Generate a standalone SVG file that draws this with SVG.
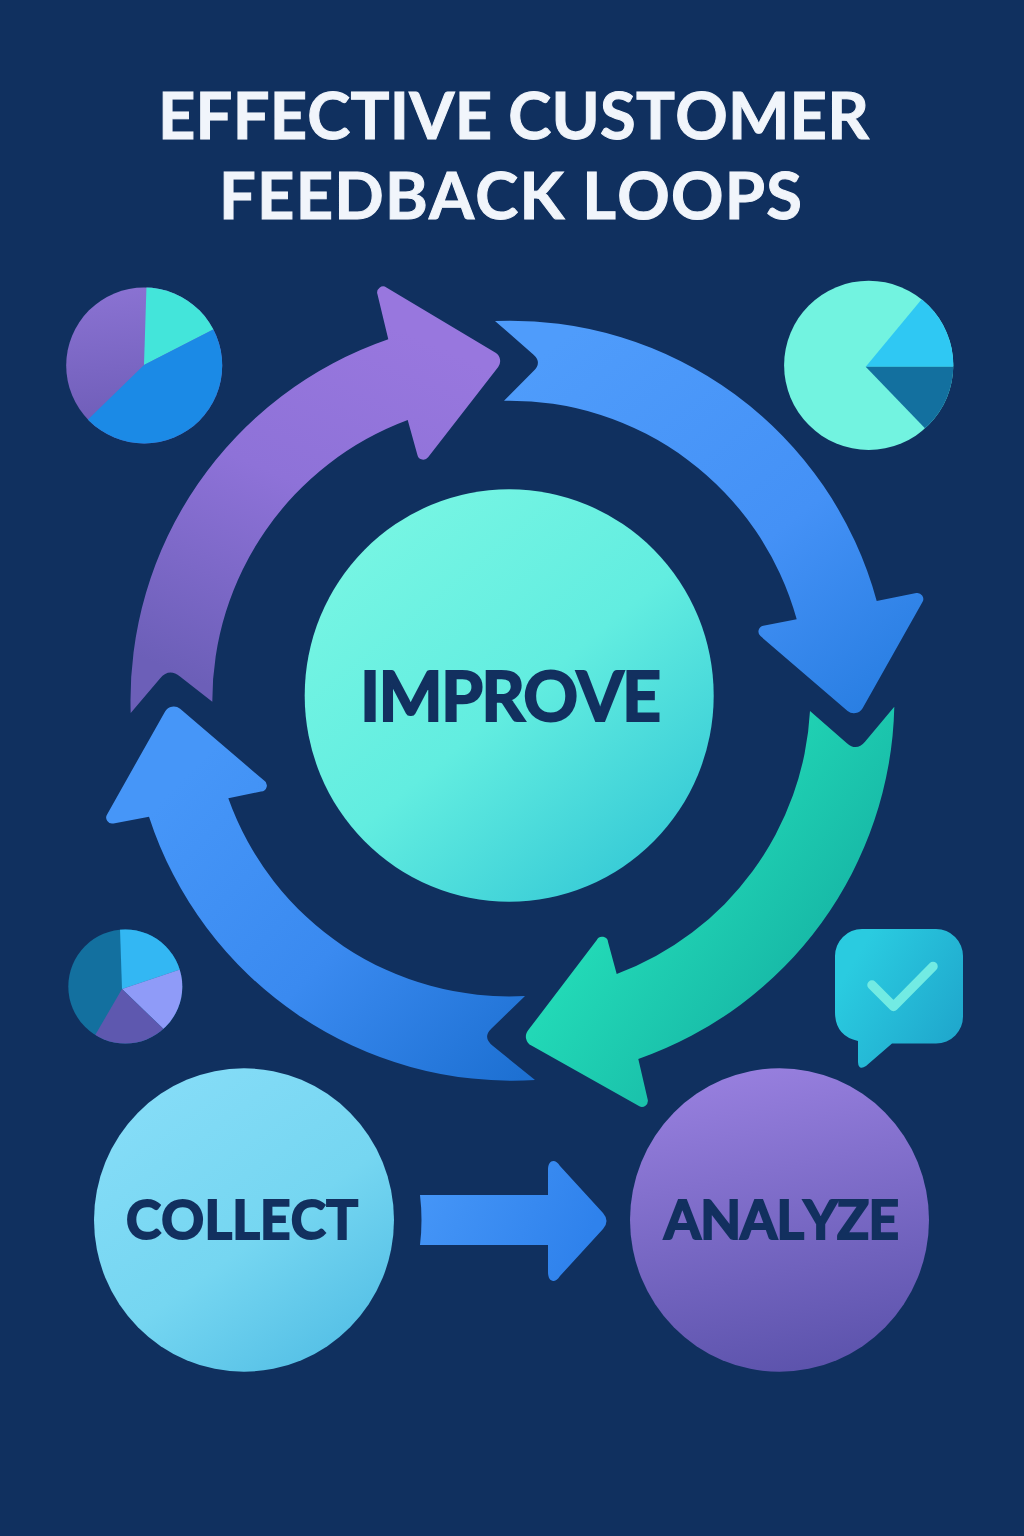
<svg xmlns="http://www.w3.org/2000/svg" width="1024" height="1536" viewBox="0 0 1024 1536">
<defs>
<linearGradient id="gPurple" gradientUnits="userSpaceOnUse" x1="400" y1="330" x2="240" y2="700"><stop offset="0" stop-color="#9877DE"/><stop offset="0.45" stop-color="#8E72D8"/><stop offset="1" stop-color="#6C5FB8"/></linearGradient>
<linearGradient id="gBlueTop" gradientUnits="userSpaceOnUse" x1="560" y1="340" x2="860" y2="710"><stop offset="0" stop-color="#4F9CFB"/><stop offset="0.6" stop-color="#4491F6"/><stop offset="1" stop-color="#2A7FE3"/></linearGradient>
<linearGradient id="gBlueBot" gradientUnits="userSpaceOnUse" x1="200" y1="760" x2="530" y2="1070"><stop offset="0" stop-color="#4696F8"/><stop offset="0.5" stop-color="#3A8AF0"/><stop offset="1" stop-color="#1D70D2"/></linearGradient>
<linearGradient id="gGreen" gradientUnits="userSpaceOnUse" x1="640" y1="880" x2="810" y2="1000"><stop offset="0" stop-color="#22D8B6"/><stop offset="1" stop-color="#16B5A5"/></linearGradient>
<linearGradient id="gImprove" x1="0.18" y1="0.1" x2="0.85" y2="0.92"><stop offset="0" stop-color="#76F5E3"/><stop offset="0.5" stop-color="#62EDE0"/><stop offset="1" stop-color="#36CAD6"/></linearGradient>
<linearGradient id="gCollect" x1="0.2" y1="0.1" x2="0.8" y2="0.95"><stop offset="0" stop-color="#84DCF7"/><stop offset="0.55" stop-color="#75D6F1"/><stop offset="1" stop-color="#55C0E6"/></linearGradient>
<linearGradient id="gAnalyze" x1="0.4" y1="0" x2="0.6" y2="1"><stop offset="0" stop-color="#977FDE"/><stop offset="1" stop-color="#5C53AC"/></linearGradient>
<linearGradient id="gArrow" x1="0" y1="0" x2="1" y2="0.3"><stop offset="0" stop-color="#4797F8"/><stop offset="1" stop-color="#2F82EC"/></linearGradient>
<linearGradient id="gPie1" x1="0.4" y1="0" x2="0.5" y2="1"><stop offset="0" stop-color="#8A72D2"/><stop offset="1" stop-color="#6A5AB4"/></linearGradient>
<linearGradient id="gBubble" x1="0.1" y1="0.3" x2="0.95" y2="0.85"><stop offset="0" stop-color="#2ACBE0"/><stop offset="1" stop-color="#1FA6CC"/></linearGradient>
<clipPath id="clipPie1"><circle cx="144.2" cy="365.5" r="78"/></clipPath>
<clipPath id="clipPie2"><circle cx="868.7" cy="365.3" r="84.6"/></clipPath>
<clipPath id="clipPie3"><circle cx="125.3" cy="986.5" r="57"/></clipPath>
</defs>
<style>
.title{font-family:"Lato","Liberation Sans",sans-serif;font-weight:700;font-size:65px;fill:#F1F5FB;stroke:#F1F5FB;stroke-width:1;font-kerning:none}
.label{font-family:"Lato","Liberation Sans",sans-serif;font-weight:700;fill:#12305F;stroke:#12305F;stroke-width:2;font-kerning:none}
</style>
<rect width="1024" height="1536" fill="#10305F"/>
<g id="title">
<text class="title" x="158" y="139" textLength="711" lengthAdjust="spacing">EFFECTIVE CUSTOMER</text>
<text class="title" x="219" y="219" textLength="583" lengthAdjust="spacing">FEEDBACK LOOPS</text>
</g>
<g id="connectors">
<path id="arrow-purple" fill="url(#gPurple)" d="M130.7 713 L160 678.5 Q169 667.7 180 676.4 L212.3 701.7 A300 300 0 0 1 407.7 420 L417.5 455.2 A6 6 0 0 0 428.1 457.2 L498.2 367 A10 10 0 0 0 495.6 352.7 L386.4 287.4 A6 6 0 0 0 377.4 294.1 L388.3 339.3 A382 382 0 0 0 130.7 713 Z"/>
<path id="arrow-blue-top" fill="url(#gBlueTop)" d="M495 321 A380 380 0 0 1 876.7 601 L916.3 593.1 A6 6 0 0 1 922.6 601.8 L862.6 708.3 A10 10 0 0 1 847.6 710.9 L760.5 636.1 A6 6 0 0 1 763.3 625.7 L796.7 619.3 A298 298 0 0 0 504 400.7 L533.8 370.8 Q542.3 362.3 533.3 354.4 Z"/>
<path id="arrow-green" fill="url(#gGreen)" d="M894.3 706.7 A382 382 0 0 1 638.3 1059 L647.8 1100 A6 6 0 0 1 639.4 1106.3 L531.4 1045.6 A10 10 0 0 1 528.3 1030.1 L596.8 940 A6 6 0 0 1 608.1 942.2 L616.7 974 A298 298 0 0 0 810 711 L846.9 743.2 Q856.7 751.7 865 741.7 Z"/>
<path id="arrow-blue-bottom" fill="url(#gBlueBot)" d="M535 1080 A382 382 0 0 1 149 816.7 L113.5 823.4 A6 6 0 0 1 107.1 814.4 L165.1 711.4 A10 10 0 0 1 180.1 708.8 L263.8 780.3 A6 6 0 0 1 261 791.5 L228.3 798.3 A298 298 0 0 0 525 996 L491.5 1028.5 Q482 1037.6 493 1046 Z"/>
<path id="arrow-collect-analyze" fill="url(#gArrow)" d="M420 1195 L548 1195 L548 1170 C548 1160 555 1158 560 1166 L603 1213 Q610 1221 603 1229 L560 1276 C555 1284 548 1282 548 1272 L548 1245 L420 1245 Q423 1220 420 1195 Z"/>
</g>
<g id="node-improve">
<ellipse cx="509.2" cy="695.5" rx="204.5" ry="206.2" fill="url(#gImprove)"/>
<text class="label" font-size="68" x="360" y="720.5" textLength="301" lengthAdjust="spacing">IMPROVE</text>
</g>
<g id="node-collect">
<ellipse cx="244" cy="1220" rx="150" ry="151.7" fill="url(#gCollect)"/>
<text class="label" font-size="53" x="126" y="1239" textLength="232" lengthAdjust="spacing">COLLECT</text>
</g>
<g id="node-analyze">
<ellipse cx="779.5" cy="1220" rx="149.5" ry="151.7" fill="url(#gAnalyze)"/>
<text class="label" font-size="53" x="664" y="1239" textLength="235" lengthAdjust="spacing">ANALYZE</text>
</g>
<g id="pie-top-left">
<circle cx="144.2" cy="365.5" r="78" fill="url(#gPie1)"/>
<g clip-path="url(#clipPie1)">
<polygon fill="#43E5DA" points="144,365 147,270 250,270 232,320"/>
<polygon fill="#1B8AE6" points="144,365 232,320 240,460 70,460 70,437"/>
</g>
</g>
<g id="pie-top-right">
<circle cx="868.7" cy="365.3" r="84.6" fill="#72F3E0"/>
<g clip-path="url(#clipPie2)">
<polygon fill="#2FC8F3" points="865.7,366.7 965,247 990,247 990,366.7"/>
<polygon fill="#13709F" points="865.7,366.7 990,366.7 990,495.8"/>
</g>
</g>
<g id="pie-bottom-left">
<circle cx="125.3" cy="986.5" r="57" fill="#13709F"/>
<g clip-path="url(#clipPie3)">
<polygon fill="#33B7F3" points="122,989 118,869 260,869 260,942.4"/>
<polygon fill="#8F9BF8" points="122,989 260,942.4 260,1122"/>
<polygon fill="#5E58AF" points="122,989 260,1122 260,1200 35,1200 35,1138.5"/>
</g>
</g>
<g id="bubble">
<path fill="url(#gBubble)" d="M862 929 H936 A27 27 0 0 1 963 956 V1016 A27 27 0 0 1 936 1043.5 H892 L866 1066 Q858.5 1071 858 1062 V1041 Q835 1036 835 1012 V956 A27 27 0 0 1 862 929 Z"/>
<path fill="none" stroke="#72EBE3" stroke-width="9.5" stroke-linecap="round" stroke-linejoin="round" d="M872 985 L893.5 1006.5 L933 966.5"/>
</g>
</svg>
